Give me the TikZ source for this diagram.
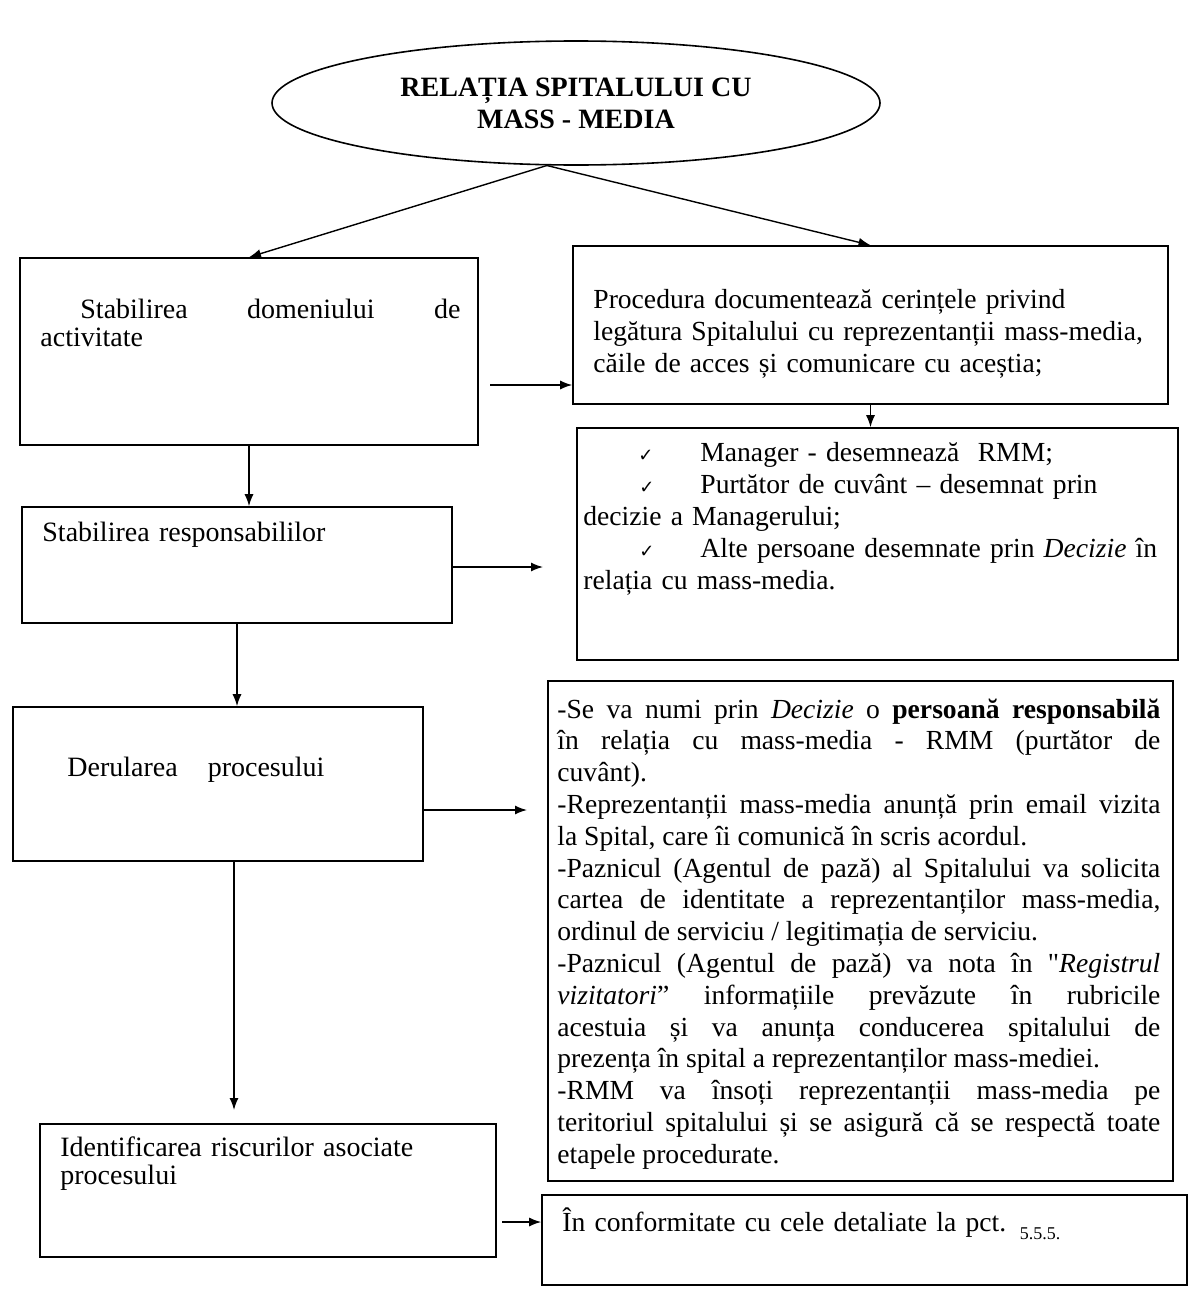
\documentclass[tikz,border=0pt]{standalone}
\usepackage{fontspec}
\setmainfont{Liberation Serif}
\newfontfamily\symfont{DejaVu Sans}
\usetikzlibrary{shapes.geometric,fit,arrows.meta}

\tikzset{
  box/.style={draw, line width=0.8pt, inner sep=0pt},
  txt/.style={anchor=base west, inner sep=0pt, align=left, font=\fontsize{13.8}{16}\selectfont},
  arr/.style={-{Latex[length=6pt,width=4.5pt]}, line width=0.7pt},
}
\newcommand{\chk}{{\symfont\fontsize{9}{9}\selectfont ✓}}

\begin{document}
\begin{tikzpicture}[x=0.5pt,y=0.5pt,yscale=-1,xscale=1]
\useasboundingbox (0,0) rectangle (1190,1290);

%Shape: Ellipse
\node [draw, ellipse, line width=0.8pt, minimum width=304pt, minimum height=62pt, inner sep=0pt, align=center, font=\fontsize{14}{16}\selectfont\bfseries] (rel) at (576,103) {RELAȚIA SPITALULUI CU\\MASS - MEDIA};

%Shape: Rectangle
\node [box, fit={(20,258) (478,445)}] (dom) {};
%Shape: Rectangle
\node [box, fit={(573,246) (1168,404)}] (proc) {};
%Shape: Rectangle
\node [box, fit={(22,507) (452,623)}] (resp) {};
%Shape: Rectangle
\node [box, fit={(577,428) (1178,660)}] (desm) {};
%Shape: Rectangle
\node [box, fit={(13,707) (423,861)}] (der) {};
%Shape: Rectangle
\node [box, fit={(548,681) (1173,1181)}] (pas) {};
%Shape: Rectangle
\node [box, fit={(40,1124) (496,1257)}] (risc) {};
%Shape: Rectangle
\node [box, fit={(542,1195) (1187,1285)}] (conf) {};

% Text Node
\node [txt, text width=210pt, font=\fontsize{14}{14}\selectfont] (domtxt) at (40,318) {\hspace*{20pt}Stabilirea\hfill domeniului\hfill de\\activitate};
% Text Node
\node [txt, text width=288pt] (proctxt) at (593,308) {Procedura documentează cerințele privind\\legătura Spitalului cu reprezentanții mass-media,\\căile de acces și comunicare cu aceștia;};
% Text Node
\node [txt, text width=200pt, font=\fontsize{14}{14}\selectfont] (resptxt) at (42,541) {Stabilirea responsabililor};
% Text Node
\node [txt, text width=294pt] (desmtxt) at (583,461) {\makebox[58.5pt][l]{\hspace*{27.5pt}\chk}Manager - desemnează\ \ RMM;\\\makebox[58.5pt][l]{\hspace*{28pt}\chk}Purtător de cuvânt – desemnat prin\\decizie a Managerului;\\\makebox[58.5pt][l]{\hspace*{28pt}\chk}Alte persoane desemnate prin \textit{Decizie} în\\relația cu mass-media.};
% Text Node
\node [txt, text width=190pt, font=\fontsize{14}{14}\selectfont] (dertxt) at (67,776) {Derularea\hspace{15pt}procesului};
% Text Node
\node [txt, text width=301.5pt, align=justify, font=\fontsize{13.8}{15.9}\selectfont] (pastxt) at (557,718) {-Se va numi prin \textit{Decizie} o \textbf{persoană responsabilă}\linebreak
în relația cu mass-media - RMM (purtător de\linebreak
cuvânt).\\
-Reprezentanții mass-media anunță prin email vizita\linebreak
la Spital, care îi comunică în scris acordul.\\
-Paznicul (Agentul de pază) al Spitalului va solicita\linebreak
cartea de identitate a reprezentanților mass-media,\linebreak
ordinul de serviciu / legitimația de serviciu.\\
-Paznicul (Agentul de pază) va nota în \textquotedbl\textit{Registrul}\linebreak
\textit{vizitatori}'' informațiile prevăzute în rubricile\linebreak
acestuia și va anunța conducerea spitalului de\linebreak
prezența în spital a reprezentanților mass-mediei.\\
-RMM va însoți reprezentanții mass-media pe\linebreak
teritoriul spitalului și se asigură că se respectă toate\linebreak
etapele procedurate.};
% Text Node
\node [txt, text width=215pt, font=\fontsize{14}{14}\selectfont] (risctxt) at (60,1156) {Identificarea riscurilor asociate\\procesului};
% Text Node
\node [txt, text width=300pt] (conftxt) at (562,1231) {În conformitate cu cele detaliate la pct. \raisebox{-4pt}{\fontsize{9}{9}\selectfont 5.5.5.}};

%Straight Lines
\draw [arr] (rel.245) -- (dom.north);
\draw [arr] (rel.245) -- (proc.north);
\coordinate (p1) at (490,385);
\draw [arr] (p1) -- (p1 -| proc.west);
\draw [arr] (proc.south) -- (proc.south |- desm.north);
\draw [arr] (dom.south) -- (dom.south |- resp.north);
\coordinate (p2) at (543,567);
\draw [arr] (resp.east |- p2) -- (p2);
\draw [arr] (resp.south) -- (resp.south |- der.north);
\coordinate (p3) at (527,810);
\draw [arr] (der.east |- p3) -- (p3);
\coordinate (p4) at (234,1110);
\draw [arr] (p4 |- der.south) -- (p4);
\coordinate (p5) at (502,1222);
\draw [arr] (p5) -- (p5 -| conf.west);

\end{tikzpicture}
\end{document}
